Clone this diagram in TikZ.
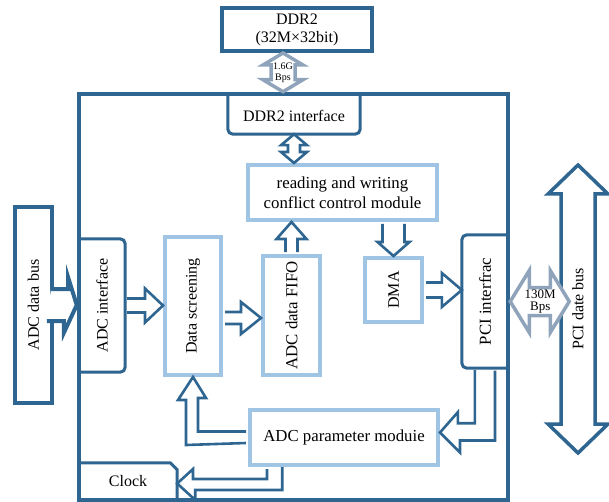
\documentclass[tikz,border=0pt]{standalone}
\usepackage{fontspec}
\usepackage{graphicx}
\setmainfont{Liberation Serif}
\usetikzlibrary{calc}

\definecolor{dkblue}{RGB}{46,102,145}
\definecolor{ltblue}{RGB}{160,196,228}
\definecolor{bwgray}{RGB}{143,163,186}

% hollow block arrows: [style]{from}{to}{half shaft}{half head}{head length}
\newcommand\singlearrow[6][]{%
  \filldraw[harr, #1] let \p1 = (#2), \p2 = (#3), \n1 = {atan2(\y2-\y1, \x2-\x1)},
    \n2 = {veclen(\x2-\x1, \y2-\y1)} in [shift = {(\p1)}, rotate = \n1]
    (2, #4) -- (\n2-#6, #4) -- (\n2-#6, #5) -- (\n2, 0) -- (\n2-#6, -#5)
    -- (\n2-#6, -#4) -- (2, -#4);
}
\newcommand\doublearrow[6][]{%
  \filldraw[harr, #1] let \p1 = (#2), \p2 = (#3), \n1 = {atan2(\y2-\y1, \x2-\x1)},
    \n2 = {veclen(\x2-\x1, \y2-\y1)} in [shift = {(\p1)}, rotate = \n1]
    (0, 0) -- (#6, #5) -- (#6, #4) -- (\n2-#6, #4) -- (\n2-#6, #5) -- (\n2, 0)
    -- (\n2-#6, -#5) -- (\n2-#6, -#4) -- (#6, -#4) -- (#6, -#5) -- cycle;
}

\begin{document}
\begin{tikzpicture}[x = 1pt, y = -1pt,
  every node/.style = {font = \fontsize{16}{17}\selectfont, inner sep = 0},
  big/.style = {font = \fontsize{16.8}{20}\selectfont},
  box/.style = {draw = ltblue, line width = 4},
  dkbox/.style = {draw = dkblue, line width = 4},
  frame/.style = {draw = dkblue, line width = 3, rounded corners = 5},
  harr/.style = {draw = dkblue, line width = 2.6, fill = white, line join = miter},
  bwarr/.style = {draw = bwgray, line width = 3.5}
]
\useasboundingbox (0, 0) rectangle (609, 502);

\node[dkbox, minimum width = 150, minimum height = 43, align = center,
  font = \fontsize{16}{18}\selectfont] (ddr) at (297, 29.5) {DDR2\\(32M×32bit)};
\node[dkbox, line width = 4.5, minimum width = 429, minimum height = 406] (card) at (293.5, 297) {};

% blocks on the card
\node[minimum width = 132, minimum height = 36] (dif) at (294, 116) {DDR2 interface};
\draw[frame] ([yshift = 4]dif.north west) -- (dif.south west) -- (dif.south east)
  -- ([yshift = 4]dif.north east);
\node[box, big, minimum width = 189, minimum height = 55, align = center] (rw) at (342.5, 192.5)
  {reading and writing\\conflict control module};
\node[box, big, minimum width = 57, minimum height = 119] (fifo) at (291.5, 315.5) {\rotatebox{90}{ADC data FIFO}};
\node[box, minimum width = 56, minimum height = 138] (scr) at (193, 306) {\rotatebox{90}{Data screening}};
\node[box, minimum width = 57, minimum height = 64] (dma) at (393.5, 290) {\rotatebox{90}{DMA}};
\node[minimum width = 46, minimum height = 133] (ifc) at (102, 305.5) {\rotatebox{90}{ADC interface}};
\draw[frame] (ifc.north west) -- (ifc.north east) -- (ifc.south east) -- (ifc.south west);
\node[big, minimum width = 46, minimum height = 133] (pci) at (485, 301.5) {\rotatebox{90}{PCI interfrac}};
\draw[frame] (pci.north east) -- (pci.north west) -- (pci.south west) -- (pci.south east);
\node[box, big, minimum width = 188, minimum height = 55] (par) at (344, 437.5) {ADC parameter moduie};
\node[minimum width = 98, minimum height = 37] (clk) at (128, 481.5) {Clock};
\draw[frame, rounded corners = 0] (clk.north west) -- ([xshift = -7]clk.north east)
  -- ([yshift = -7]clk.north east) -- (clk.south east);

\node[dkbox, minimum width = 37, minimum height = 196] (bus) at (33.5, 305) {\rotatebox{90}{ADC data bus}};
\filldraw[harr, line width = 4] ([xshift = -3, yshift = 16]bus.east) -- ++(17, 0) -- ++(0, -12)
  -- (card.west |- bus.east) -- ++(-13, 28) -- ++(0, -12) -- ++(-17, 0);

% data paths
\singlearrow{ifc.east}{scr.west |- ifc.east}{7}{17}{18}
\coordinate (s2f) at ([yshift = -12]scr.east);
\singlearrow{s2f}{fifo.west |- s2f}{6}{16}{20}
\singlearrow{fifo.north}{fifo.north |- rw.south}{6}{15}{17}
\singlearrow{dma.north |- rw.south}{dma.north}{11}{16}{14}
\singlearrow{dma.east}{pci.west |- dma.east}{7.5}{17}{20}
\doublearrow{dif.south}{dif.south |- rw.north}{6}{13}{11}

\filldraw[harr] ([xshift = 13, yshift = -2]pci.south west) -- ++(0, 53) -- ++(-17, 0) -- ++(0, -11)
  -- ([yshift = 5]par.east) -- ++(20, 20) -- ++(0, -12) -- ++(35, 0) -- ++(0, -70);
\filldraw[harr] ([xshift = -2, yshift = 6]par.west) -- ++(-48, 0) -- ++(0, -33.5) -- ++(8, 0)
  -- (scr.south) -- ++(-15, 23) -- ++(8, 0) -- ++(0, 45) -- ([xshift = -2, yshift = -5.5]par.west);
\filldraw[harr] ([xshift = 19, yshift = -2]par.south west) -- ++(0, 10) -- ++(-74, 0) -- ++(0, -10)
  -- ([yshift = -2]clk.east) -- ++(18, 16.5) -- ++(0, -10) -- ++(87, 0) -- ++(0, -23);

% buses and bandwidths
\coordinate (pbt) at (578, 165);
\coordinate (pbb) at (578, 453);
\doublearrow[line width = 3.5]{pbt}{pbb}{17}{30}{29}
\node (pcib) at ($(pbt)!.5!(pbb)$) {\rotatebox{90}{PCI date bus}};

\coordinate (bwt) at ([xshift = -14]ddr.south);
\doublearrow[bwarr]{bwt}{bwt |- card.north}{12}{20}{12}
\node[font = \fontsize{10}{11}\selectfont, align = center] (bw1) at ($(bwt)!.5!(bwt |- card.north)$) {1.6G\\Bps};
\coordinate (bwl) at (card.east |- pci.east);
\doublearrow[bwarr]{bwl}{[xshift = 59]bwl}{14}{31}{19}
\node[font = \fontsize{13}{12}\selectfont, align = center] (bw2) at ([xshift = 30]bwl) {130M\\Bps};
\end{tikzpicture}
\end{document}
